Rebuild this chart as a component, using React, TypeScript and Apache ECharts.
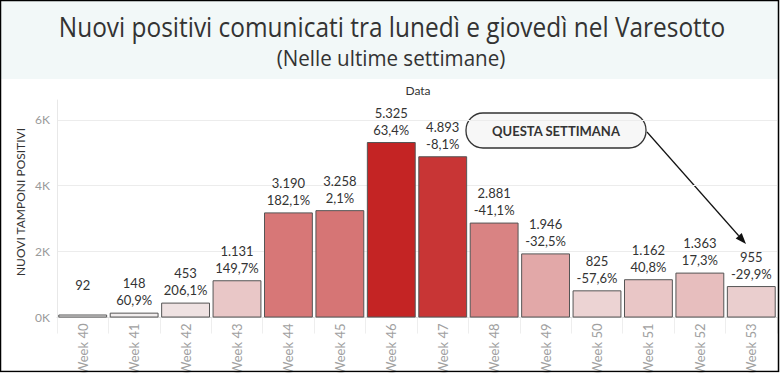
import React, { useEffect, useRef } from "react";
import * as echarts from "echarts";

const categories = ["Week 40", "Week 41", "Week 42", "Week 43", "Week 44", "Week 45", "Week 46", "Week 47", "Week 48", "Week 49", "Week 50", "Week 51", "Week 52", "Week 53"];
const positives = [92, 148, 453, 1131, 3190, 3258, 5325, 4893, 2881, 1946, 825, 1162, 1363, 955];
const yTicks = [0, 2000, 4000, 6000];

const fmtThousands = (v: number) => {
  const s = String(Math.round(v));
  return s.replace(/\B(?=(\d{3})+(?!\d))/g, ".");
};
const fmtPct = (i: number) => {
  if (i === 0) return " ";
  const p = (positives[i] / positives[i - 1] - 1) * 100;
  return p.toFixed(1).replace(".", ",") + "%";
};

export default function App() {
  const ref = useRef<HTMLDivElement>(null);
  useEffect(() => {
    if (!ref.current) return;
    const chart = echarts.init(ref.current, undefined, { renderer: "svg" });
    const tx = 746, ty = 244, fx = 647, fy = 132;
    const len = Math.hypot(tx - fx, ty - fy);
    const ux = (tx - fx) / len, uy = (ty - fy) / len;
    const bx = tx - 11 * ux, by = ty - 11 * uy;
    const px = -uy, py = ux;
    chart.setOption({
      animation: false,
      backgroundColor: "#ffffff",
      visualMap: {
        show: false,
        type: "continuous",
        min: Math.min(...positives),
        max: Math.max(...positives),
        dimension: 1,
        seriesIndex: 0,
        inRange: { color: ["#f2f0f0", "#c42424"] },
      },
      grid: { left: 57, right: 6, top: 100, bottom: 58 },
      xAxis: {
        type: "category",
        data: categories,
        axisLine: { show: true, lineStyle: { color: "#d9d9d9" } },
        axisTick: { show: true, length: 16, interval: 0, lineStyle: { color: "#eeeeee" } },
        axisLabel: {
          rotate: 90,
          interval: 0,
          color: "#a0a0a0",
          fontFamily: "Lato",
          fontSize: 13,
          margin: 6,
        },
      },
      yAxis: {
        type: "value",
        min: 0,
        max: 6600,
        interval: 2000,
        axisLine: { show: true, lineStyle: { color: "#e8e8e8" } },
        axisTick: { show: false },
        splitLine: { show: true, showMaxLine: false, lineStyle: { color: "#ececec" } },
        axisLabel: {
          color: "#9a9a9a",
          fontFamily: "Lato",
          fontSize: 12,
          margin: 7,
          showMaxLabel: false,
          formatter: (v: number) => (yTicks.includes(v) ? v / 1000 + "K" : ""),
        },
      },
      series: [
        {
          type: "bar",
          data: positives,
          barCategoryGap: "5%",
          itemStyle: { borderColor: "#555555", borderWidth: 1 },
          label: {
            show: true,
            position: "top",
            distance: 4,
            color: "#333333",
            fontFamily: "Lato",
            fontSize: 13,
            lineHeight: 17,
            formatter: (p: any) => fmtThousands(p.value) + "\n" + fmtPct(p.dataIndex),
          },
        },
      ],
      graphic: [
        { type: "rect", z: -10, shape: { x: 0, y: 0, width: 779, height: 79 }, style: { fill: "#f2f8f8" } },
        {
          type: "text", x: 392, y: 26, scaleX: 0.873,
          style: { text: "Nuovi positivi comunicati tra lunedì e giovedì nel Varesotto", align: "center", verticalAlign: "middle", fontFamily: "Open Sans", fontSize: 28, fill: "#333333" },
        },
        {
          type: "text", x: 391, y: 57, scaleX: 0.936,
          style: { text: "(Nelle ultime settimane)", align: "center", verticalAlign: "middle", fontFamily: "Open Sans", fontSize: 22, fill: "#333333" },
        },
        {
          type: "text", x: 418, y: 90,
          style: { text: "Data", align: "center", verticalAlign: "middle", fontFamily: "Lato", fontSize: 12, fill: "#333333" },
        },
        {
          type: "text", x: 20, y: 202, rotation: Math.PI / 2,
          style: { text: "NUOVI TAMPONI POSITIVI", align: "center", verticalAlign: "middle", fontFamily: "Lato", fontSize: 12, fill: "#333333" },
        },
        {
          type: "rect", shape: { x: 466, y: 113, width: 180, height: 35, r: 17 },
          style: { fill: "#f7f7f7", stroke: "#333333", lineWidth: 1.3 },
        },
        {
          type: "text", x: 556, y: 131,
          style: { text: "QUESTA SETTIMANA", align: "center", verticalAlign: "middle", fontFamily: "Lato", fontWeight: "bold", fontSize: 13, fill: "#333333" },
        },
        {
          type: "line", shape: { x1: fx, y1: fy, x2: bx, y2: by },
          style: { stroke: "#111111", lineWidth: 1.2 },
        },
        {
          type: "polygon",
          shape: { points: [[tx, ty], [bx + 4 * px, by + 4 * py], [bx - 4 * px, by - 4 * py]] },
          style: { fill: "#111111" },
        },
        {
          type: "rect", z: 100, shape: { x: 0.5, y: 0.5, width: 778, height: 371 },
          style: { fill: "none", stroke: "#000000", lineWidth: 1.5 },
        },
        {
          type: "rect", z: 100, shape: { x: 0, y: 372.5, width: 783, height: 6 },
          style: { fill: "#ffffff" },
        },
      ],
    });
    return () => chart.dispose();
  }, []);
  return <div ref={ref} style={{ position: "fixed", left: 0, top: 0, width: 783, height: 378 }} />;
}
